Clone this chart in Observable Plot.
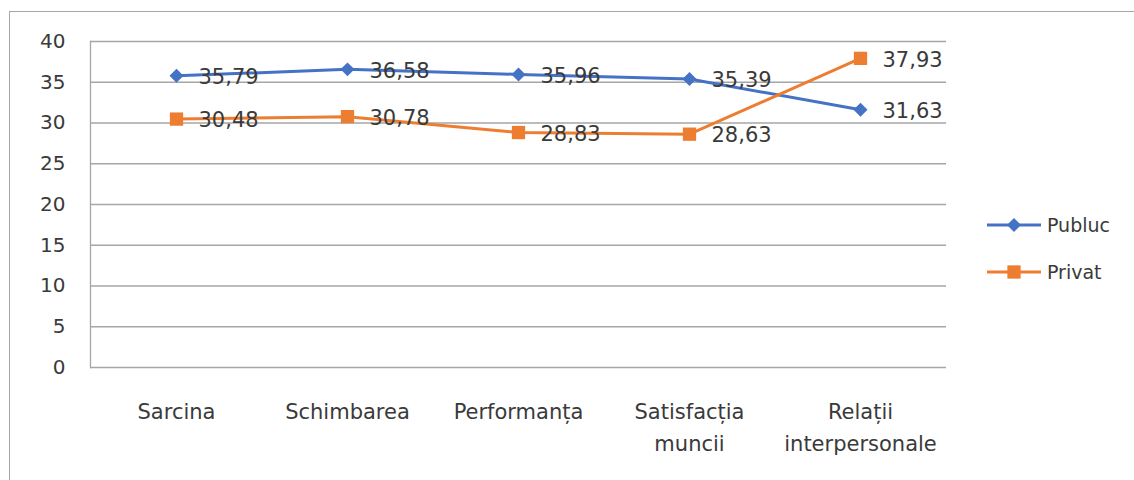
<!DOCTYPE html>
<html>
<head>
<meta charset="utf-8">
<script src="https://cdn.jsdelivr.net/npm/d3@7"></script>
<script src="https://cdn.jsdelivr.net/npm/@observablehq/plot@0.6"></script>
<style>
  html, body { margin: 0; padding: 0; background: #fff; }
  #wrap { position: relative; width: 1134px; height: 480px; overflow: hidden; font-family: "DejaVu Sans", sans-serif; }
  #border { position: absolute; left: 9px; top: 11px; right: -5px; bottom: -5px; border-top: 1.5px solid #a6a6a6; border-left: 1.5px solid #a6a6a6; pointer-events: none; }
  #chart { position: absolute; left: 0; top: 0; }
  #legend { position: absolute; left: 987px; top: 211px; color: #3a3a3a; font-size: 19px; }
  .row { display: flex; align-items: center; height: 28px; margin-bottom: 19px; }
  .row svg { margin-right: 6px; }
</style>
</head>
<body>
<div id="wrap">
  <div id="chart"></div>
  <div id="border"></div>
  <div id="legend"></div>
</div>
<script>
const categories = ["Sarcina", "Schimbarea", "Performanța", "Satisfacția muncii", "Relații interpersonale"];
const categoryLabels = ["Sarcina", "Schimbarea", "Performanța", "Satisfacția\nmuncii", "Relații\ninterpersonale"];
const seriesNames = ["Publuc", "Privat"];
const publuc = [35.79, 36.58, 35.96, 35.39, 31.63];
const privat = [30.48, 30.78, 28.83, 28.63, 37.93];
const yTicks = [0, 5, 10, 15, 20, 25, 30, 35, 40];
const colors = ["#4472C4", "#ED7D31"];
const symbols = ["diamond2", "square"];
const radii = [6.3, 7.5];

const seriesValues = [publuc, privat];
const rows = [];
seriesNames.forEach((s, si) => {
  categories.forEach((c, ci) => rows.push({series: s, category: c, value: seriesValues[si][ci]}));
});
const fmt = d => d.toFixed(2).replace(".", ",");
const labelOf = new Map(categories.map((c, i) => [c, categoryLabels[i]]));
const textColor = "#3a3a3a";
const gridColor = "#a6a6a6";

const marks = [
  Plot.gridY(yTicks, {stroke: gridColor, strokeOpacity: 1, strokeWidth: 1.3}),
  Plot.frame({anchor: "left", stroke: gridColor, strokeWidth: 1.3}),
  Plot.axisY(yTicks, {tickSize: 0, tickPadding: 25, fontSize: 20, fill: textColor, label: null, tickFormat: d => String(d)}),
  Plot.axisX({tickSize: 0, tickPadding: 28, fontSize: 21, lineHeight: 1.55, fill: textColor, label: null, tickFormat: d => labelOf.get(d)})
];
seriesNames.forEach((s, si) => {
  const data = rows.filter(r => r.series === s);
  marks.push(Plot.line(data, {x: "category", y: "value", stroke: colors[si], strokeWidth: 3}));
  marks.push(Plot.dot(data, {x: "category", y: "value", symbol: () => symbols[si], r: radii[si], fill: colors[si], stroke: "none"}));
});
seriesNames.forEach((s, si) => {
  const data = rows.filter(r => r.series === s);
  marks.push(Plot.text(data, {x: "category", y: "value", text: d => fmt(d.value), textAnchor: "start", dx: 22, dy: 1.5, fontSize: 21, fill: textColor}));
});

const chart = Plot.plot({
  width: 1134,
  height: 480,
  marginLeft: 90,
  marginRight: 188,
  marginTop: 41,
  marginBottom: 113,
  style: {fontFamily: "DejaVu Sans, sans-serif", background: "white", color: textColor, overflow: "visible"},
  x: {type: "point", domain: categories, padding: 0.5},
  y: {domain: [0, 40]},
  symbol: {type: "identity"},
  marks
});
document.getElementById("chart").appendChild(chart);

const legend = document.getElementById("legend");
seriesNames.forEach((s, si) => {
  const row = document.createElement("div");
  row.className = "row";
  const svg = d3.create("svg").attr("width", 54).attr("height", 20);
  svg.append("line").attr("x1", 0).attr("x2", 54).attr("y1", 10).attr("y2", 10).attr("stroke", colors[si]).attr("stroke-width", 3);
  const sym = si === 0 ? d3.symbolDiamond2 : d3.symbolSquare;
  const size = Math.PI * radii[si] * radii[si];
  svg.append("path").attr("transform", "translate(27,10)").attr("d", d3.symbol(sym, size)()).attr("fill", colors[si]);
  row.appendChild(svg.node());
  const label = document.createElement("span");
  label.textContent = s;
  row.appendChild(label);
  legend.appendChild(row);
});
</script>
</body>
</html>
